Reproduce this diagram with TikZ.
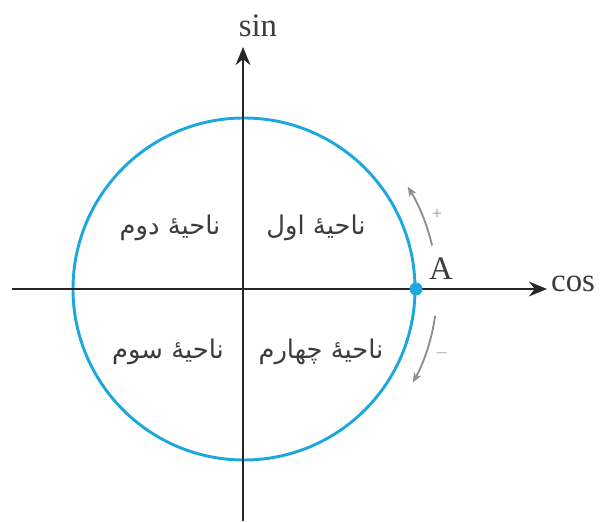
\documentclass[tikz,border=0pt]{standalone}
\usepackage{fontspec}
\setmainfont{Liberation Serif}
\newfontfamily\arabicfont[Script=Arabic]{DejaVu Sans}
\TeXXeTstate=1
\usetikzlibrary{arrows.meta}
\newcommand{\fatext}[1]{{\arabicfont\beginR #1\endR}}
\definecolor{circleink}{HTML}{1CA8DD}
\definecolor{axisink}{HTML}{262626}
\definecolor{turnmuted}{HTML}{8E8E8E}
\definecolor{labelink}{HTML}{3C3C3C}

\begin{document}
\begin{tikzpicture}[
  x=0.3mm,
  y=0.3mm,
  every node/.style={font=\fontsize{28}{32}\selectfont, labelink},
  axis/.style={axisink, line width=2.2pt, -{Stealth[length=5.4mm, width=4.4mm]}},
  unit/.style={circleink, line width=2.5pt},
  turn/.style={turnmuted, line width=1.6pt, -{Stealth[length=3mm, width=2.4mm]}},
  quadrant/.style={font=\fontsize{22}{26}\selectfont\arabicfont, labelink},
  sign/.style={font=\fontsize{15}{17}\selectfont, turnmuted, inner sep=0pt}
]
  % ---- frame of the reference picture ---------------------------------
  \useasboundingbox (0,0) rectangle (602,521);

  % ---- the unit circle -------------------------------------------------
  \coordinate (O) at (244,232);
  \draw[unit] (O) circle[radius=171];

  % ---- axes ------------------------------------------------------------
  \coordinate (xl) at (12,232);
  \coordinate (xr) at (547,232);
  \coordinate (yb) at (243,0);
  \coordinate (yt) at (243,474);
  \draw[axis] (xl) -- (xr);
  \draw[axis] (yb) -- (yt);
  \node[anchor=base west, inner sep=0pt] (cos) at (551,229) {cos};
  \node[anchor=base, inner sep=0pt] (sin) at (258,484) {sin};

  % ---- the starting point A --------------------------------------------
  \fill[circleink] (416,232) circle[radius=6.5];
  \node[anchor=base, inner sep=0pt] (A) at (441,241) {A};

  % ---- directions of turning -------------------------------------------
  \draw[turn] ([shift={(13:193)}]O) arc[start angle=13, end angle=32, radius=193];
  \draw[turn] ([shift={(-8:193)}]O) arc[start angle=-8, end angle=-29, radius=193];
  \node[sign] (plus) at (437,306) {+};
  \node[sign] (minus) at (442,168) {$-$};

  % ---- the four quadrants ----------------------------------------------
  \node[quadrant] (qone)   at (316,293) {\fatext{ناحیهٔ اول}};
  \node[quadrant] (qtwo)   at (170,293) {\fatext{ناحیهٔ دوم}};
  \node[quadrant] (qthree) at (168,169) {\fatext{ناحیهٔ سوم}};
  \node[quadrant] (qfour)  at (321,169) {\fatext{ناحیهٔ چهارم}};
\end{tikzpicture}
\end{document}
